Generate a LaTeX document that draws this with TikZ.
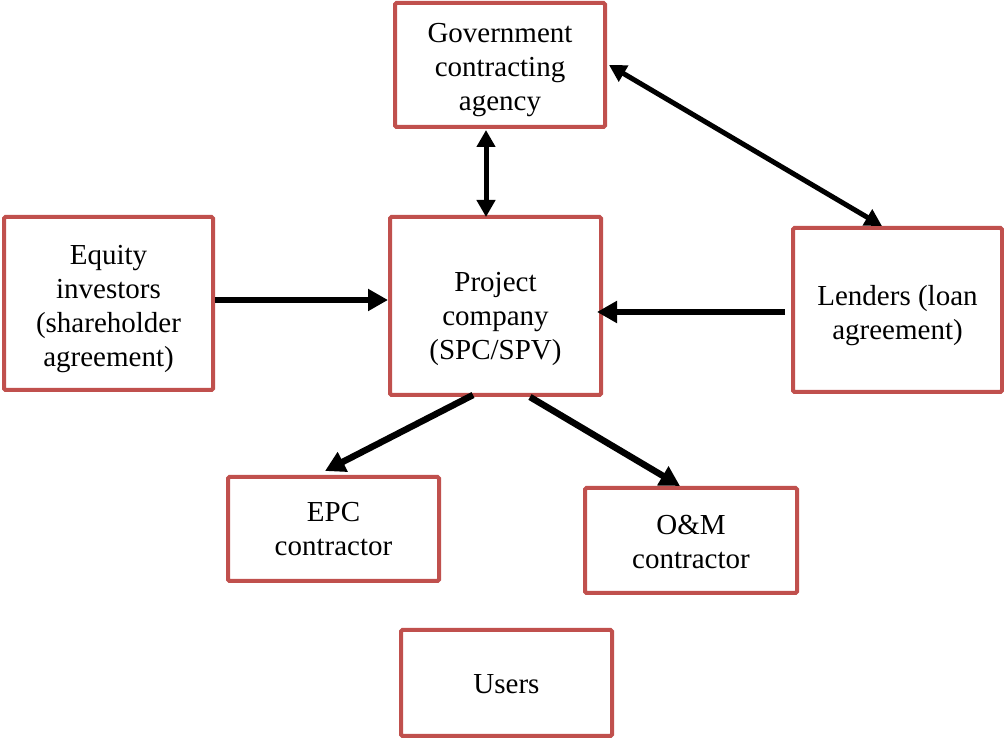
\documentclass[tikz,border=0pt]{standalone}
\usepackage{fontspec}
\setmainfont{Liberation Serif}
\usetikzlibrary{arrows.meta}
\definecolor{boxred}{RGB}{192,80,77}
\newcommand{\lowtext}[2]{\raisebox{-#1}[\height][\depth]{\begin{tabular}{@{}c@{}}#2\end{tabular}}}
\begin{document}
\begin{tikzpicture}[x=1pt,y=1pt,
  box/.style={draw=boxred, line width=4pt, rounded corners=1.5pt, align=center, inner sep=0pt,
    font=\fontsize{29}{34}\selectfont},
  conn/.style={line width=6.5pt, -{Triangle[length=20pt,width=21pt]}},
  bconn/.style={line width=5pt, {Triangle[length=17pt,width=18pt]}-{Triangle[length=17pt,width=18pt]}}]
\useasboundingbox (0,0) rectangle (1004,738);
\node[box, minimum width=210pt, minimum height=124pt] (gov) at (500,673) {\lowtext{5pt}{Government\\contracting\\agency}};
\node[box, minimum width=209pt, minimum height=173pt] (eq) at (108.5,434.5) {\lowtext{5pt}{Equity\\investors\\(shareholder\\agreement)}};
\node[box, minimum width=211pt, minimum height=178pt] (proj) at (495.5,432) {\lowtext{13pt}{Project\\company\\(SPC/SPV)}};
\node[box, minimum width=209pt, minimum height=164pt] (len) at (897.5,428) {\lowtext{6pt}{Lenders (loan\\agreement)}};
\node[box, minimum width=211pt, minimum height=104pt] (epc) at (333.5,209) {\lowtext{3pt}{EPC\\contractor}};
\node[box, minimum width=212pt, minimum height=105pt] (om) at (691,197.5) {\lowtext{4pt}{O\&M\\contractor}};
\node[box, minimum width=211pt, minimum height=106pt] (users) at (506.5,55) {\lowtext{4pt}{Users}};
\draw[bconn] ([xshift=-14pt,yshift=-1pt]gov.south) -- ([xshift=-9.5pt,yshift=-2pt]proj.north);
\draw[bconn] ([xshift=2pt]gov.east) -- ([xshift=-15.5pt]len.north);
\draw[conn] ([yshift=3.5pt]eq.east) -- ([yshift=6pt]proj.west);
\draw[conn] ([xshift=-6pt,yshift=-2pt]len.west) -- ([xshift=-6pt,yshift=-6pt]proj.east);
\draw[conn] ([xshift=-22.5pt,yshift=2pt]proj.south) -- ([xshift=-8.5pt,yshift=4pt]epc.north);
\draw[conn] ([xshift=34.5pt]proj.south) -- ([xshift=-11pt]om.north);
\end{tikzpicture}
\end{document}
